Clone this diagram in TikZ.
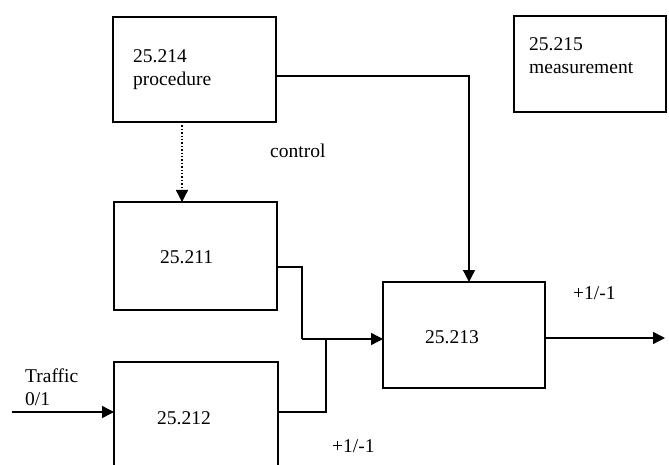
\documentclass[tikz,border=0pt]{standalone}
\usepackage{fontspec}
\setmainfont{Liberation Serif}
\usetikzlibrary{arrows.meta}
\begin{document}
\begin{tikzpicture}[x=1pt,y=-1pt,
  blk/.style={draw,line width=1.8pt,rectangle,inner sep=0,outer sep=0},
  lbl/.style={inner sep=0,anchor=base west,font=\fontsize{19.5}{22}\selectfont},
  conn/.style={line width=1.4pt},
  arr/.style={conn,-{Triangle[length=12pt,width=12pt]}}]
\useasboundingbox (0,0) rectangle (669,465);
\clip (0,0) rectangle (669,465);
% boxes
\node[blk,minimum width=163pt,minimum height=105pt] (b214) at (194.5,69.5) {};
\node[blk,minimum width=152pt,minimum height=96pt] (b215) at (590,64) {};
\node[blk,minimum width=163pt,minimum height=108pt] (b211) at (195.5,256) {};
\node[blk,minimum width=164pt,minimum height=113pt] (b212) at (196,418.5) {};
\node[blk,minimum width=162pt,minimum height=106pt] (b213) at (464,335) {};
% texts
\node[lbl] (t214a) at (133,63) {25.214};
\node[lbl] (t214b) at (133,86) {procedure};
\node[lbl] (t215a) at (529,51) {25.215};
\node[lbl] (t215b) at (529,74) {measurement};
\node[lbl] (t211) at (160,263) {25.211};
\node[lbl] (t212) at (157,424) {25.212};
\node[lbl] (t213) at (425,343) {25.213};
\node[lbl] (tctl) at (270,158) {control};
\node[lbl] (ttra) at (25,382) {Traffic};
\node[lbl] (t01) at (25,405) {0/1};
\node[lbl] (tpm1) at (573,299) {+1/-1};
\node[lbl] (tpm2) at (332,452) {+1/-1};
% coordinates
\coordinate (cx) at (182,0);
\coordinate (y214) at (0,76);
\coordinate (x213) at (469,0);
\coordinate (k1) at (302,267);
\coordinate (k2) at (302,339);
\coordinate (k3) at (326,412);
\coordinate (k4) at (326,339);
\coordinate (tin) at (12,412);
\coordinate (tout) at (665,338);
% connectors
\draw[arr,dotted] (b214.south -| cx) -- (b211.north -| cx);
\draw[arr] (b214.east |- y214) -| (b213.north -| x213);
\draw[conn] (b211.east |- k1) -- (k1) -- (k2);
\draw[arr] (k2) -- (b213.west |- k2);
\draw[conn] (b212.east |- k3) -- (k3) -- (k4);
\draw[arr] (tin) -- (b212.west |- tin);
\draw[arr] (b213.east |- tout) -- (tout);
\end{tikzpicture}
\end{document}
